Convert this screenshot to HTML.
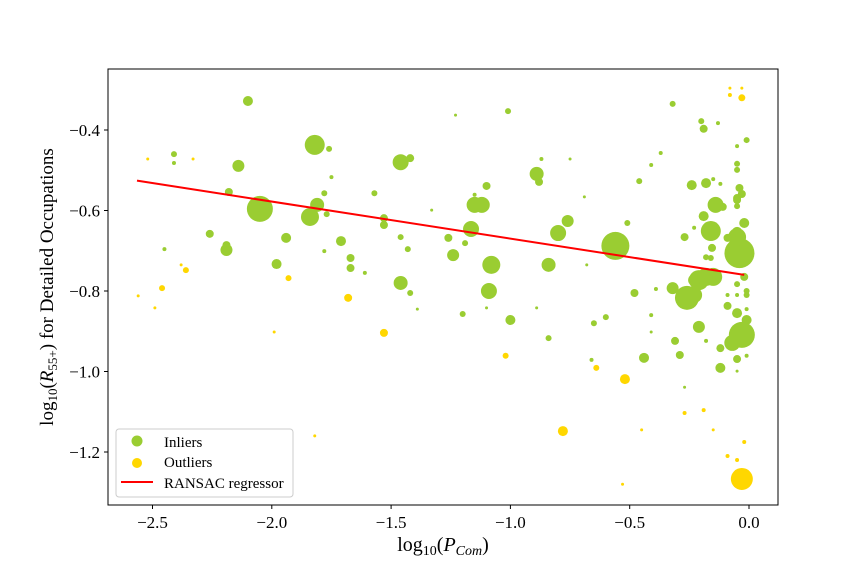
<!DOCTYPE html>
<html><head><meta charset="utf-8"><style>
body{margin:0;background:#fff}
svg{display:block;font-family:"Liberation Serif","DejaVu Serif",serif}
</style></head><body>
<svg id="chart" width="864" height="576" viewBox="0 0 864 576" xmlns="http://www.w3.org/2000/svg">
<rect width="864" height="576" fill="#fff"/>
<g id="marks"></g>
<rect x="108" y="69" width="670" height="436" fill="none" stroke="#000" stroke-width="1"/>
<g id="axes"></g>
<text x="443" y="551" font-size="20" text-anchor="middle">log<tspan font-size="14" dy="4">10</tspan><tspan dy="-4">(</tspan><tspan font-style="italic">P</tspan><tspan font-size="14" dy="4" font-style="italic">Com</tspan><tspan dy="-4">)</tspan></text>
<text transform="translate(53,287) rotate(-90)" font-size="19" text-anchor="middle">log<tspan font-size="13" dy="4">10</tspan><tspan dy="-4">(</tspan><tspan font-style="italic">R</tspan><tspan font-size="13" dy="4">55+</tspan><tspan dy="-4">) for Detailed Occupations</tspan></text>
<g>
<rect x="116" y="429" width="177" height="68" rx="3" fill="#fff" fill-opacity="0.8" stroke="#ccc"/>
<circle cx="137" cy="441" r="5.5" fill="#9acd32"/>
<text x="164" y="447" font-size="15">Inliers</text>
<circle cx="137" cy="463" r="5" fill="#ffd700"/>
<text x="164" y="467" font-size="15">Outliers</text>
<line x1="121" y1="482" x2="153" y2="482" stroke="#f00" stroke-width="2"/>
<text x="164" y="488" font-size="15">RANSAC regressor</text>
</g>
</svg>
<script>
const inX=[-2.10,-2.41,-2.41,-2.14,-2.18,-2.05,-1.82,-1.76,-1.81,-1.84,-1.77,-1.78,-1.75,-2.45,-2.26,-2.19,-2.19,-1.94,-1.98,-1.71,-1.78,-1.67,-1.67,-1.61,-1.57,-1.53,-1.53,-1.46,-1.42,-1.46,-1.43,-1.46,-1.42,-1.26,-1.24,-1.19,-1.165,-1.15,-1.12,-1.15,-1.10,-1.08,-1.09,-1.01,-1.00,-0.89,-0.88,-0.80,-0.76,-0.84,-0.84,-1.20,-0.56,-0.51,-0.48,-0.60,-0.66,-0.65,-0.44,-0.32,-0.20,-0.19,-0.13,-0.37,-0.41,-0.46,-0.05,-0.01,-0.05,-0.05,-0.24,-0.18,-0.15,-0.12,-0.04,-0.03,-0.05,-0.05,-0.05,-0.14,-0.11,-0.19,-0.16,-0.23,-0.27,-0.155,-0.18,-0.16,-0.04,-0.05,-0.02,-0.05,-0.09,-0.21,-0.18,-0.15,-0.23,-0.26,-0.23,-0.32,-0.39,-0.02,-0.05,-0.09,-0.05,-0.01,-0.01,-0.09,-0.05,-0.01,-0.01,-0.03,-0.07,-0.21,-0.31,-0.29,-0.12,-0.18,-0.41,-0.41,-0.12,-0.05,-0.01,-0.05,-0.27,-1.23,-1.33,-1.39,-1.10,-0.89,-0.87,-0.75,-0.69,-0.68];
const inY=[-0.328,-0.460,-0.482,-0.489,-0.554,-0.596,-0.437,-0.447,-0.586,-0.616,-0.609,-0.557,-0.517,-0.696,-0.658,-0.686,-0.698,-0.668,-0.733,-0.676,-0.701,-0.718,-0.743,-0.755,-0.557,-0.619,-0.636,-0.480,-0.470,-0.666,-0.696,-0.780,-0.805,-0.668,-0.711,-0.681,-0.646,-0.586,-0.586,-0.561,-0.539,-0.735,-0.800,-0.353,-0.872,-0.509,-0.529,-0.656,-0.626,-0.735,-0.917,-0.857,-0.688,-0.631,-0.805,-0.865,-0.971,-0.880,-0.966,-0.335,-0.378,-0.397,-0.383,-0.457,-0.487,-0.527,-0.440,-0.425,-0.484,-0.499,-0.537,-0.532,-0.522,-0.534,-0.544,-0.559,-0.569,-0.574,-0.589,-0.586,-0.591,-0.614,-0.651,-0.643,-0.666,-0.693,-0.716,-0.718,-0.706,-0.666,-0.631,-0.653,-0.668,-0.773,-0.765,-0.765,-0.773,-0.817,-0.810,-0.793,-0.795,-0.765,-0.783,-0.810,-0.810,-0.800,-0.810,-0.837,-0.855,-0.845,-0.872,-0.909,-0.929,-0.889,-0.924,-0.959,-0.942,-0.924,-0.860,-0.902,-0.991,-0.969,-0.961,-0.999,-1.039,-0.363,-0.599,-0.845,-0.842,-0.842,-0.472,-0.472,-0.566,-0.735];
const inS=[5,3,2,6,4,13,10,3,7,9,3,3,2,2,4,4,6,5,5,5,2,4,4,2,3,4,4,8,4,3,3,7,3,4,6,3,8,8,8,2,4,9,8,3,5,7,4,8,6,7,3,3,14,3,4,3,2,3,5,3,3,4,2,2,2,3,2,3,3,3,5,5,2,2,4,4,4,4,3,8,4,5,10,2,4,4,3,3,15,9,5,5,4,10,9,9,6,12,8,6,2,4,3,2,2,3,3,4,5,2,5,13,8,6,4,4,4,2,2,1.5,5,4,2,1.5,1.5,1.5,1.5,1.5,1.5,1.5,2,1.5,1.5,1.5];
const outX=[-0.08,-0.03,-0.08,-0.03,-0.52,-0.64,-1.02,-1.53,-1.68,-1.93,-2.36,-2.38,-2.46,-2.56,-2.49,-2.52,-2.33,-1.99,-1.82,-0.78,-0.45,-0.27,-0.19,-0.15,-0.09,-0.05,-0.02,-0.03,-0.53];
const outY=[-0.313,-0.320,-0.296,-0.296,-1.019,-0.991,-0.961,-0.904,-0.817,-0.768,-0.748,-0.735,-0.793,-0.812,-0.842,-0.472,-0.472,-0.902,-1.160,-1.148,-1.145,-1.103,-1.096,-1.145,-1.210,-1.220,-1.175,-1.267,-1.280];
const outS=[2,3.5,1.5,1.5,5,3,3,4,4,3,3,1.5,3,1.5,1.5,1.5,1.5,1.5,1.5,5,1.5,2,2,1.5,2,2,2,11,1.5];
const lineX=[-2.565,-0.02];
const lineCoef=[-0.092,-0.7618];
const xTicks=[-2.5,-2.0,-1.5,-1.0,-0.5,0.0];
const yTicks=[-0.4,-0.6,-0.8,-1.0,-1.2];

const NS="http://www.w3.org/2000/svg";
function sx(v){return 749+v*238.6;}
function sy(v){return 130-(v+0.4)*402.5;}
const marks=document.getElementById('marks');
function circ(x,y,r,fill,name){
  const c=document.createElementNS(NS,'circle');
  c.setAttribute('cx',sx(x));c.setAttribute('cy',sy(y));c.setAttribute('r',r);c.setAttribute('fill',fill);
  
  
  marks.appendChild(c);
}
for(let i=0;i<inX.length;i++) circ(inX[i],inY[i],inS[i],'#9acd32','inlier-point');
for(let i=0;i<outX.length;i++) circ(outX[i],outY[i],outS[i],'#ffd700','outlier-point');
const ln=document.createElementNS(NS,'line');
ln.setAttribute('x1',sx(lineX[0]));ln.setAttribute('y1',sy(lineCoef[0]*lineX[0]+lineCoef[1]));
ln.setAttribute('x2',sx(lineX[1]));ln.setAttribute('y2',sy(lineCoef[0]*lineX[1]+lineCoef[1]));
ln.setAttribute('stroke','#f00');ln.setAttribute('stroke-width','2');


marks.appendChild(ln);
const axes=document.getElementById('axes');
function fmt(v){return (v<0?'\u2212':'')+Math.abs(v).toFixed(1);}
xTicks.forEach(v=>{
  const t=document.createElementNS(NS,'line');
  t.setAttribute('x1',sx(v));t.setAttribute('x2',sx(v));t.setAttribute('y1',505);t.setAttribute('y2',509);t.setAttribute('stroke','#000');
  
  
  axes.appendChild(t);
  const l=document.createElementNS(NS,'text');
  l.setAttribute('x',sx(v));l.setAttribute('y',528);l.setAttribute('font-size','17');l.setAttribute('text-anchor','middle');
  l.textContent=fmt(v);
  
  
  axes.appendChild(l);
});
yTicks.forEach(v=>{
  const t=document.createElementNS(NS,'line');
  t.setAttribute('x1',104);t.setAttribute('x2',108);t.setAttribute('y1',sy(v));t.setAttribute('y2',sy(v));t.setAttribute('stroke','#000');
  
  
  axes.appendChild(t);
  const l=document.createElementNS(NS,'text');
  l.setAttribute('x',100);l.setAttribute('y',sy(v)+6);l.setAttribute('font-size','17');l.setAttribute('text-anchor','end');
  l.textContent=fmt(v);
  
  
  axes.appendChild(l);
});
</script>
</body></html>
